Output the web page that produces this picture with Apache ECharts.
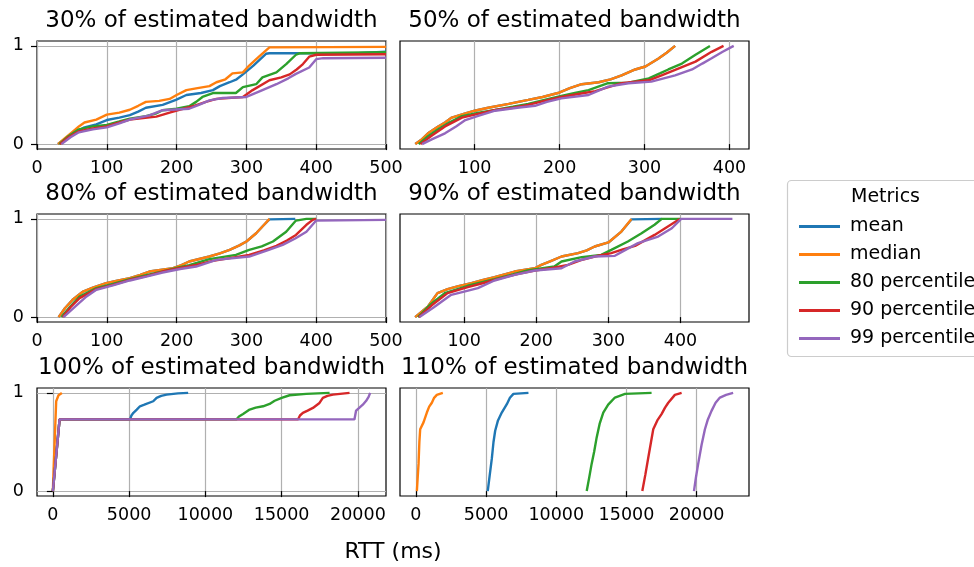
<!DOCTYPE html>
<html>
<head>
<meta charset="utf-8">
<script src="https://cdn.jsdelivr.net/npm/echarts@6/dist/echarts.min.js"></script>
<style>
html,body{margin:0;padding:0;background:#fff;}
#chart{width:974px;height:567px;}
</style>
</head>
<body>
<div id="chart"></div>
<script>
// ---------- DATA ----------
const seriesNames = ['mean', 'median', '80 percentile', '90 percentile', '99 percentile'];
const panelTitles = ['30% of estimated bandwidth', '50% of estimated bandwidth', '80% of estimated bandwidth',
  '90% of estimated bandwidth', '100% of estimated bandwidth', '110% of estimated bandwidth'];
const xTicksSmall = [0, 100, 200, 300, 400, 500];
const xTicksMid = [100, 200, 300, 400];
const xTicksLarge = [0, 5000, 10000, 15000, 20000];
const yTicks = [0, 1];

// 30% of estimated bandwidth  [RTT ms, cumulative fraction]
const p30_mean = [[30,0],[42,0.06],[50,0.1],[60,0.14],[68,0.17],[85,0.2],[100,0.245],[118,0.27],[133,0.295],[145,0.33],[156,0.37],[180,0.4],[199,0.45],[214,0.5],[235,0.52],[252,0.55],[262,0.59],[276,0.63],[286,0.66],[295,0.71],[310,0.8],[328,0.92],[333,0.925],[460,0.925],[500,0.94]];
const p30_median = [[30,0],[40,0.06],[50,0.12],[60,0.18],[68,0.22],[85,0.25],[100,0.3],[118,0.32],[133,0.35],[145,0.39],[156,0.43],[175,0.44],[190,0.46],[200,0.5],[214,0.55],[230,0.57],[247,0.59],[257,0.63],[270,0.66],[280,0.72],[295,0.73],[304,0.8],[318,0.89],[333,0.985],[500,0.99]];
const p30_p80 = [[32,0],[45,0.08],[60,0.15],[80,0.18],[100,0.195],[118,0.23],[133,0.26],[156,0.285],[170,0.31],[180,0.345],[200,0.36],[218,0.385],[228,0.43],[237,0.48],[252,0.52],[285,0.52],[295,0.58],[314,0.61],[323,0.68],[343,0.73],[357,0.815],[371,0.91],[376,0.925],[500,0.935]];
const p30_p90 = [[33,0],[45,0.07],[60,0.13],[80,0.16],[100,0.18],[118,0.22],[133,0.25],[171,0.28],[190,0.32],[204,0.35],[225,0.39],[242,0.43],[257,0.46],[295,0.48],[309,0.55],[333,0.65],[350,0.68],[362,0.71],[372,0.76],[381,0.815],[390,0.89],[400,0.91],[500,0.915]];
const p30_p99 = [[35,0],[48,0.07],[60,0.12],[80,0.15],[100,0.17],[118,0.21],[133,0.25],[160,0.29],[180,0.345],[218,0.36],[232,0.4],[247,0.445],[266,0.47],[300,0.48],[323,0.55],[343,0.61],[360,0.67],[371,0.715],[390,0.78],[400,0.865],[410,0.875],[500,0.88]];

// 50% of estimated bandwidth
const p50_mean = [[30,0],[38,0.05],[45,0.11],[57,0.18],[65,0.22],[73,0.27],[88,0.31],[100,0.34],[116,0.37],[140,0.41],[163,0.45],[180,0.48],[198,0.52],[212,0.57],[226,0.61],[246,0.63],[260,0.66],[273,0.7],[289,0.76],[301,0.79],[316,0.87],[326,0.93],[336,1]];
const p50_median = [[30,0],[38,0.05],[45,0.11],[57,0.18],[65,0.22],[73,0.27],[88,0.31],[100,0.34],[116,0.37],[140,0.41],[163,0.45],[180,0.48],[198,0.52],[212,0.57],[226,0.61],[246,0.63],[260,0.66],[273,0.7],[289,0.76],[301,0.79],[316,0.87],[326,0.93],[336,1]];
const p50_p80 = [[34,0],[45,0.08],[57,0.15],[70,0.22],[85,0.285],[105,0.32],[124,0.347],[145,0.38],[163,0.41],[182,0.45],[202,0.49],[218,0.52],[234,0.55],[257,0.62],[281,0.626],[305,0.67],[318,0.72],[328,0.76],[344,0.82],[360,0.91],[377,1]];
const p50_p90 = [[36,0],[50,0.09],[65,0.18],[85,0.27],[105,0.31],[124,0.347],[145,0.37],[163,0.4],[182,0.44],[202,0.48],[222,0.51],[242,0.54],[273,0.62],[305,0.65],[320,0.7],[336,0.755],[360,0.84],[379,0.94],[393,1]];
const p50_p99 = [[38,0],[50,0.05],[65,0.11],[78,0.18],[89,0.245],[105,0.29],[124,0.34],[150,0.37],[171,0.39],[185,0.43],[202,0.466],[234,0.5],[257,0.585],[281,0.62],[308,0.636],[336,0.7],[356,0.76],[368,0.82],[379,0.874],[392,0.94],[405,1]];

// 80% of estimated bandwidth
const p80_mean = [[31,0],[40,0.09],[51,0.176],[66,0.26],[80,0.3],[99,0.346],[115,0.37],[133,0.397],[148,0.43],[161,0.464],[195,0.498],[207,0.53],[218,0.566],[247,0.617],[262,0.65],[276,0.685],[290,0.73],[300,0.77],[314,0.854],[324,0.93],[333,0.995],[370,1]];
const p80_median = [[31,0],[40,0.09],[51,0.176],[66,0.26],[80,0.3],[99,0.346],[115,0.37],[133,0.397],[148,0.43],[161,0.464],[195,0.498],[207,0.53],[218,0.566],[247,0.617],[262,0.65],[276,0.685],[290,0.73],[300,0.77],[314,0.854],[324,0.93],[333,1]];
const p80_p80 = [[35,0],[48,0.11],[61,0.21],[85,0.295],[110,0.34],[133,0.386],[158,0.43],[180,0.464],[200,0.5],[218,0.53],[247,0.59],[285,0.634],[304,0.685],[322,0.72],[338,0.77],[357,0.87],[371,0.983],[386,1],[400,1]];
const p80_p90 = [[37,0],[48,0.1],[61,0.193],[85,0.285],[110,0.33],[133,0.38],[158,0.42],[180,0.464],[205,0.5],[228,0.532],[250,0.57],[276,0.6],[304,0.634],[325,0.68],[343,0.725],[358,0.78],[371,0.837],[386,0.94],[395,0.99],[400,1]];
const p80_p99 = [[38,0],[55,0.11],[71,0.21],[85,0.278],[110,0.325],[133,0.373],[158,0.415],[180,0.454],[205,0.49],[228,0.515],[257,0.583],[304,0.617],[330,0.68],[352,0.736],[370,0.8],[386,0.87],[400,0.983],[500,0.99]];

// 90% of estimated bandwidth
const p90_mean = [[32,0],[42,0.06],[50,0.11],[63,0.244],[77,0.285],[92,0.315],[110,0.346],[125,0.375],[142,0.407],[170,0.464],[198,0.498],[207,0.532],[220,0.57],[235,0.617],[258,0.651],[270,0.68],[281,0.719],[300,0.76],[318,0.871],[332,0.995],[374,1]];
const p90_median = [[32,0],[42,0.06],[50,0.11],[63,0.244],[77,0.285],[92,0.315],[110,0.346],[125,0.375],[142,0.407],[170,0.464],[198,0.498],[207,0.532],[220,0.57],[235,0.617],[258,0.651],[270,0.68],[281,0.719],[300,0.76],[318,0.871],[332,1]];
const p90_p80 = [[36,0],[52,0.12],[73,0.244],[105,0.319],[142,0.386],[165,0.43],[188,0.475],[225,0.515],[235,0.566],[263,0.61],[290,0.634],[304,0.685],[327,0.77],[346,0.854],[364,0.94],[374,1],[400,1]];
const p90_p90 = [[37,0],[55,0.12],[77,0.244],[105,0.305],[128,0.35],[151,0.397],[175,0.44],[198,0.475],[222,0.5],[244,0.532],[262,0.58],[281,0.617],[304,0.651],[320,0.69],[337,0.725],[364,0.837],[388,0.949],[399,1]];
const p90_p99 = [[38,0],[58,0.1],[82,0.227],[100,0.26],[119,0.295],[142,0.373],[170,0.43],[198,0.475],[235,0.498],[253,0.566],[281,0.617],[309,0.624],[325,0.69],[341,0.753],[369,0.82],[388,0.905],[401,1],[472,1]];

// 100% of estimated bandwidth
const p100_mean = [[0,0],[440,0.73],[5060,0.73],[5150,0.77],[5280,0.797],[5500,0.83],[5710,0.864],[6000,0.88],[6580,0.915],[6800,0.95],[7100,0.97],[7460,0.983],[8200,0.995],[8870,1]];
const p100_median = [[0,0],[44,0.2],[218,0.915],[370,0.976],[590,1]];
const p100_p80 = [[0,0],[440,0.73],[12030,0.73],[12200,0.76],[12470,0.786],[12900,0.83],[13300,0.85],[13780,0.864],[14210,0.888],[14540,0.92],[15000,0.95],[15520,0.976],[16610,0.99],[18140,1]];
const p100_p90 = [[0,0],[440,0.73],[16070,0.73],[16200,0.77],[16390,0.797],[16700,0.82],[17050,0.847],[17480,0.898],[17700,0.949],[18000,0.97],[18360,0.983],[19450,1]];
const p100_p99 = [[0,0],[440,0.73],[19770,0.73],[19880,0.82],[20100,0.85],[20320,0.88],[20540,0.92],[20700,0.96],[20800,1]];

// 110% of estimated bandwidth
const p110_mean = [[5120,0],[5250,0.15],[5410,0.33],[5530,0.5],[5650,0.615],[5850,0.72],[6120,0.8],[6480,0.885],[6700,0.95],[6950,0.99],[8020,1]];
const p110_median = [[71,0],[130,0.14],[190,0.277],[250,0.5],[308,0.63],[545,0.7],[783,0.8],[950,0.86],[1140,0.9],[1300,0.95],[1494,0.98],[1920,1]];
const p110_p80 = [[12170,0],[12350,0.14],[12520,0.277],[12700,0.4],[12880,0.547],[13100,0.69],[13350,0.8],[13700,0.88],[14180,0.953],[14900,0.99],[16790,1]];
const p110_p90 = [[16130,0],[16350,0.17],[16560,0.345],[16750,0.5],[16910,0.63],[17200,0.72],[17500,0.784],[17750,0.85],[17980,0.9],[18450,0.98],[18930,1]];
const p110_p99 = [[19810,0],[19950,0.14],[20110,0.277],[20350,0.47],[20590,0.63],[20800,0.73],[21060,0.817],[21350,0.9],[21660,0.953],[22100,0.98],[22600,1]];

const panelData = [
  [p30_mean, p30_median, p30_p80, p30_p90, p30_p99],
  [p50_mean, p50_median, p50_p80, p50_p90, p50_p99],
  [p80_mean, p80_median, p80_p80, p80_p90, p80_p99],
  [p90_mean, p90_median, p90_p80, p90_p90, p90_p99],
  [p100_mean, p100_median, p100_p80, p100_p90, p100_p99],
  [p110_mean, p110_median, p110_p80, p110_p90, p110_p99]
];
// x-axis extents (matplotlib auto-margins)
const xMins = [0, 12, 0, 11, -1040, -1130];
const xMaxs = [500, 423, 500, 495, 21840, 23730];
const xTickSets = [xTicksSmall, xTicksMid, xTicksSmall, xTicksMid, xTicksLarge, xTicksLarge];

// ---------- LAYOUT / STYLE ----------
const colors = ['#1f77b4', '#ff7f0e', '#2ca02c', '#d62728', '#9467bd'];
const FONT = 'DejaVu Sans';
const colLeft = [37, 400];
const rowTop = [41, 214, 388];
const gW = 349, gH = 108;

const grids = [], xAxes = [], yAxes = [], series = [], graphics = [];
for (let p = 0; p < 6; p++) {
  const r = Math.floor(p / 2), c = p % 2;
  grids.push({left: colLeft[c], top: rowTop[r], width: gW, height: gH,
    show: true, borderColor: '#000', borderWidth: 1.2, backgroundColor: 'transparent', containLabel: false});
  xAxes.push({
    type: 'value', gridIndex: p, min: xMins[p], max: xMaxs[p],
    axisLine: {show: false},
    axisTick: {show: true, length: 6, customValues: xTickSets[p], lineStyle: {color: '#000', width: 1.2}},
    axisLabel: {show: true, customValues: xTickSets[p], margin: 10, color: '#000', fontFamily: FONT, fontSize: 17.5,
      showMinLabel: true, showMaxLabel: true, formatter: v => String(v)},
    splitLine: {show: true, lineStyle: {color: '#b0b0b0', width: 1.2}}
  });
  const showY = c === 0;
  yAxes.push({
    type: 'value', gridIndex: p, min: -0.05, max: 1.05,
    axisLine: {show: false},
    axisTick: {show: showY, length: 6, customValues: yTicks, lineStyle: {color: '#000', width: 1.2}},
    axisLabel: {show: showY, customValues: yTicks, margin: 13, color: '#000', fontFamily: FONT, fontSize: 17.5,
      formatter: v => String(v)},
    splitLine: {show: showY, lineStyle: {color: '#b0b0b0', width: 1.2}}
  });
  panelData[p].forEach((d, s) => {
    series.push({
      name: seriesNames[s], type: 'line', xAxisIndex: p, yAxisIndex: p, data: d,
      showSymbol: false, symbol: 'none', animation: false, clip: true,
      lineStyle: {color: colors[s], width: 2.4}, itemStyle: {color: colors[s]}
    });
  });
  const titleY = [21.5, 194.5, 368][r];
  graphics.push({type: 'text', x: colLeft[c] + gW / 2, y: titleY,
    style: {text: panelTitles[p], fill: '#000', font: '23px "DejaVu Sans"', align: 'center', verticalAlign: 'middle'}});
}
// legend frame and title
graphics.push({type: 'rect', shape: {x: 787.5, y: 180.5, width: 200, height: 176, r: 4},
  style: {fill: '#fff', stroke: '#cccccc', lineWidth: 1.2}, z: -1});
graphics.push({type: 'text', x: 885.5, y: 197,
  style: {text: 'Metrics', fill: '#000', font: '19px "DejaVu Sans"', align: 'center', verticalAlign: 'middle'}});
graphics.push({type: 'text', x: 393, y: 552,
  style: {text: 'RTT (ms)', fill: '#000', font: '22px "DejaVu Sans"', align: 'center', verticalAlign: 'middle'}});

const chart = echarts.init(document.getElementById('chart'), null, {renderer: 'canvas'});
chart.setOption({
  backgroundColor: '#fff',
  animation: false,
  grid: grids,
  xAxis: xAxes,
  yAxis: yAxes,
  legend: {
    data: seriesNames.map((n, i) => ({name: n, icon: 'rect', itemStyle: {color: colors[i]}})),
    orient: 'vertical', left: 794, top: 212, itemWidth: 41, itemHeight: 3, itemGap: 9,
    textStyle: {fontFamily: FONT, fontSize: 19, color: '#000', padding: [0, 0, 0, 5]},
    selectedMode: false
  },
  graphic: graphics,
  series: series
});
</script>
</body>
</html>
